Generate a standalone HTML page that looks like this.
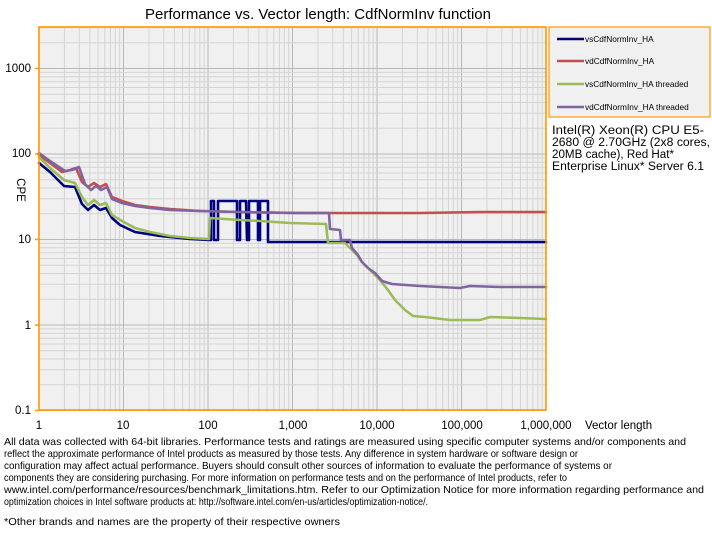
<!DOCTYPE html>
<html><head><meta charset="utf-8"><style>
html,body{margin:0;padding:0;background:#fff;width:712px;height:546px;overflow:hidden}
svg text{font-family:"Liberation Sans",Arial,sans-serif}
</style></head><body>
<svg width="712" height="546" viewBox="0 0 712 546" xmlns="http://www.w3.org/2000/svg">
<text x="318" y="19" font-size="15" text-anchor="middle" fill="#000">Performance vs. Vector length: CdfNormInv function</text>
<rect x="39" y="27" width="507" height="383" fill="#f0f0f0"/>
<g id="grid"></g>
<!-- series -->
<g fill="none" stroke-linejoin="round" stroke-linecap="round">
<polyline stroke="#c0504d" stroke-width="2.6" points="39,155 50,163 62,172 70,170 76,168 82,182 88,187 94,183 100,187 106,184 112,197 122,201 135,205 150,207 170,209 200,211 240,212 300,213 360,213 420,213 480,212 546,212"/>
<polyline stroke="#000080" stroke-width="2.6" points="39,163 50,172 64,186 75,187 82,204 88,210 94,205 100,210 106,208 112,218 120,225 135,232 160,236 190,239 210,240 211,240 211,201 214,201 214,240 218,240 218,201 237,201 237,240 240,240 240,201 246,201 246,201 247,240 249,240 249,201 258,201 258,240 260,240 260,201 268,201 268,242 300,242 400,242 480,242 546,242"/>
<polyline stroke="#9bbb59" stroke-width="2.6" points="39,157 50,168 64,180 75,183 82,197 88,205 94,200 100,205 106,203 112,215 122,221 135,228 150,232 170,236 190,238 209,239 210,218 240,220 260,221 290,223 326,224 328,243 345,243 350,248 357,255 362,262 368,268 375,275 380,280 388,290 395,300 405,310 413,316 425,317 450,320 480,320 490,317 520,318 546,319"/>
<polyline stroke="#8064a2" stroke-width="2.6" points="39,153 50,161 65,171 72,170 79,167 85,184 91,190 96,186 101,190 107,187 112,199 122,203 135,206 150,208 170,210 200,211 240,212 290,213 329,213 330,229 340,230 341,240 350,240 352,248 358,255 362,262 368,268 375,273 382,281 392,284 420,286 460,288 470,286 500,287 546,287"/>
</g>
<rect x="39" y="27" width="507" height="383" fill="none" stroke="#ff9900" stroke-width="1.6"/>
<g font-size="11.5" fill="#000" text-anchor="end" id="ylab">
<text x="31" y="72">1000</text><text x="31" y="157">100</text><text x="31" y="243">10</text><text x="31" y="329">1</text><text x="31" y="414">0.1</text>
</g>
<g font-size="11.5" fill="#000" text-anchor="middle">
<text x="39" y="429">1</text><text x="123" y="429">10</text><text x="208" y="429">100</text><text x="293" y="429">1,000</text><text x="377" y="429">10,000</text><text x="462" y="429">100,000</text><text x="546" y="429">1,000,000</text>
</g>
<text x="585" y="429" font-size="11.5">Vector length</text>
<text transform="translate(17,190) rotate(90)" font-size="11.5" text-anchor="middle">CPE</text>
<rect x="549" y="27" width="161" height="90" fill="#f0f0f0" stroke="#ff9900" stroke-width="1.2"/>
<g stroke-width="2.4">
<line x1="557" y1="39" x2="584" y2="39" stroke="#000080"/>
<line x1="557" y1="61" x2="584" y2="61" stroke="#c0504d"/>
<line x1="557" y1="84" x2="584" y2="84" stroke="#9bbb59"/>
<line x1="557" y1="107" x2="584" y2="107" stroke="#8064a2"/>
</g>
<g font-size="8.3" fill="#000">
<text x="585" y="42">vsCdfNormInv_HA</text>
<text x="585" y="64">vdCdfNormInv_HA</text>
<text x="585" y="87">vsCdfNormInv_HA threaded</text>
<text x="585" y="110">vdCdfNormInv_HA threaded</text>
</g>
<g font-size="11.5" fill="#000">
<text x="552" y="134" textLength="152" lengthAdjust="spacingAndGlyphs">Intel(R) Xeon(R) CPU E5-</text>
<text x="552" y="146" textLength="158" lengthAdjust="spacingAndGlyphs">2680 @ 2.70GHz (2x8 cores,</text>
<text x="552" y="158" textLength="122" lengthAdjust="spacingAndGlyphs">20MB cache), Red Hat*</text>
<text x="552" y="170" textLength="152" lengthAdjust="spacingAndGlyphs">Enterprise Linux* Server 6.1</text>
</g>
<g font-size="10.5" fill="#000">
<text x="4" y="445" textLength="682" lengthAdjust="spacingAndGlyphs">All data was collected with 64-bit libraries. Performance tests and ratings are measured using specific computer systems and/or components and</text>
<text x="4" y="457" textLength="574" lengthAdjust="spacingAndGlyphs">reflect the approximate performance of Intel products as measured by those tests. Any difference in system hardware or software design or</text>
<text x="4" y="469" textLength="608" lengthAdjust="spacingAndGlyphs">configuration may affect actual performance. Buyers should consult other sources of information to evaluate the performance of systems or</text>
<text x="4" y="481" textLength="563" lengthAdjust="spacingAndGlyphs">components they are considering purchasing. For more information on performance tests and on the performance of Intel products, refer to</text>
<text x="4" y="493" textLength="700" lengthAdjust="spacingAndGlyphs">www.intel.com/performance/resources/benchmark_limitations.htm.  Refer to our Optimization Notice for more information regarding performance and</text>
<text x="4" y="505" textLength="424" lengthAdjust="spacingAndGlyphs">optimization choices in Intel software products at: http://software.intel.com/en-us/articles/optimization-notice/.</text>
<text x="4" y="525" textLength="336" lengthAdjust="spacingAndGlyphs">*Other brands and names are the property of their respective owners</text>
</g>
</svg>
<script>
(function(){
var g=document.getElementById('grid'),ns='http://www.w3.org/2000/svg',s='';
function X(v){return 39+84.5*Math.log10(v);}
function Y(v){return 325-85.5*Math.log10(v);}
for(var d=0;d<6;d++){for(var m=1;m<10;m++){var x=X(m*Math.pow(10,d));
s+='<line x1="'+x+'" y1="27" x2="'+x+'" y2="410" stroke="'+(m==1?'#b8b8b8':'#d4d4d4')+'" stroke-width="1"/>';}}
for(var e=-1;e<4;e++){for(var m=1;m<10;m++){var y=Y(m*Math.pow(10,e));if(y<27)continue;
s+='<line x1="39" y1="'+y+'" x2="546" y2="'+y+'" stroke="'+(m==1?'#b8b8b8':'#d4d4d4')+'" stroke-width="1"/>';}}
for(var e=-1;e<4;e++){var y=Y(Math.pow(10,e));s+='<line x1="35" y1="'+y+'" x2="39" y2="'+y+'" stroke="#ff9900" stroke-width="1.5"/>';}
g.innerHTML=s;
})();
</script>
</body></html>
